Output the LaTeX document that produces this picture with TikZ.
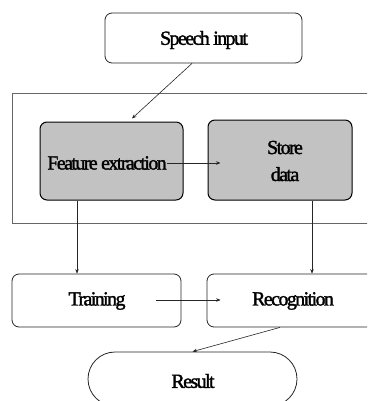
\documentclass[tikz,border=0pt]{standalone}
\usepackage{fontspec}
\setmainfont{Liberation Serif}[LetterSpace=-8,FakeBold=1.6]
\usetikzlibrary{arrows.meta,calc}
\begin{document}
\begin{tikzpicture}[x=1pt,y=-1pt,
  txt/.style={font=\fontsize{20}{27}\selectfont, inner sep=0pt},
  box/.style={draw=black!85, line width=0.8pt, rounded corners=7pt, inner sep=0pt},
  shaded/.style={box, fill=black!24, draw=black, line width=1pt},
  frame/.style={draw=black!60, line width=0.8pt},
  arr/.style={draw=black!85, line width=0.6pt, -{Stealth[length=4.5pt,width=3.5pt]}}
]
\useasboundingbox (0,0) rectangle (367,401);
\clip (0,0) rectangle (367,401);
\fill[white] (0,0) rectangle (367,401);

% frame
\node[frame, minimum width=370pt, minimum height=130pt, anchor=north west, inner sep=0pt] (frm) at (12,93) {};

% nodes
\node[box, minimum width=197pt, minimum height=50pt] (speech) at (203.5,38) {};
\node[txt] (speechT) at (204,40) {Speech input};

\node[shaded, minimum width=143pt, minimum height=78pt] (feature) at (111.5,161) {};
\node[txt] (featureT) at (107,163) {Feature extraction};

\node[shaded, minimum width=144pt, minimum height=80pt] (store) at (280,160) {};
\node[txt, align=center] (storeT) at (285,161) {Store\\data};

\node[box, minimum width=169pt, minimum height=53pt] (training) at (96.5,300.5) {};
\node[txt] (trainingT) at (97,301) {Training};

\node[box, minimum width=172pt, minimum height=53pt] (recog) at (293,300.5) {};
\node[txt] (recogT) at (293,301) {Recognition};

\node[box, rounded corners=27pt, minimum width=209pt, minimum height=54pt] (result) at (192.5,379) {};
\node[txt] (resultT) at (193,381) {Result};

% helper coordinates
\coordinate (cx1) at (77,0);
\coordinate (cx2) at (312,0);
\coordinate (cy1) at (0,163);
\coordinate (cy2) at (0,300);

% connectors
\draw[arr] ($(speech.south)+(-11.5,0)$) -- ($(feature.north)+(20.5,-3)$);
\draw[arr] (featureT.east |- cy1) -- ($(store.west |- cy1)+(13,0)$);
\draw[arr] (feature.south -| cx1) -- (training.north -| cx1);
\draw[arr] (store.south -| cx2) -- (recog.north -| cx2);
\draw[arr] ($(trainingT.east |- cy2)+(30,0)$) -- ($(recog.west |- cy2)+(14,0)$);
\draw[arr] ($(recog.south)+(-13,0)$) -- (result.north);
\end{tikzpicture}
\end{document}
